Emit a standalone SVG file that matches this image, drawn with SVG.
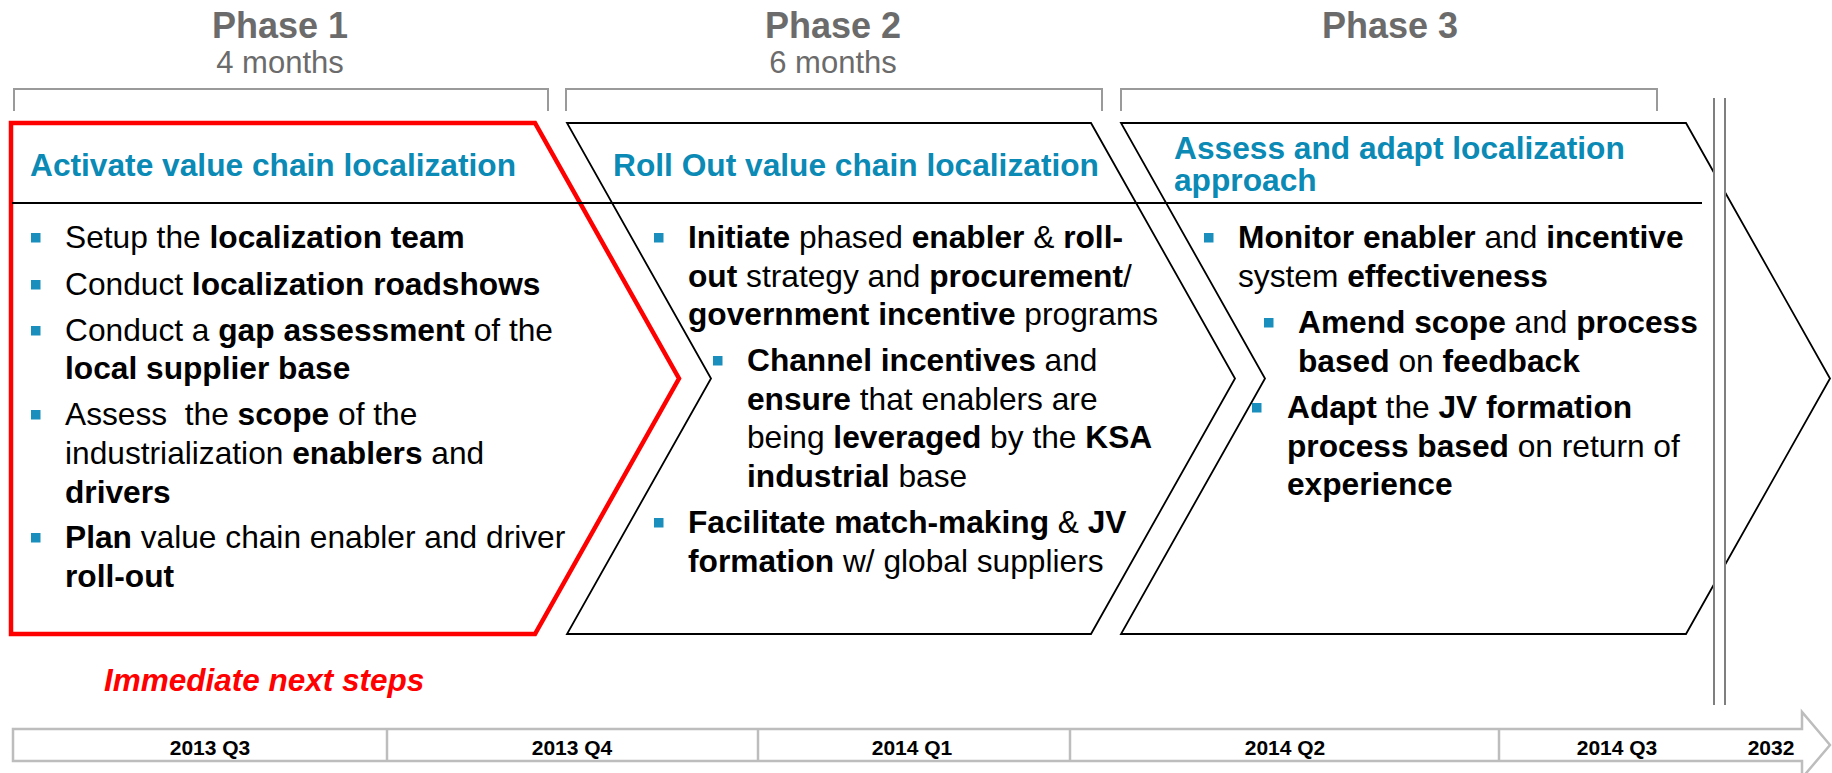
<svg xmlns="http://www.w3.org/2000/svg" width="1832" height="773" viewBox="0 0 1832 773">
<style>
text{font-family:"Liberation Sans",Arial,sans-serif}
.ph{font-size:36px;font-weight:bold;fill:#6b6b6b;text-anchor:middle}
.mo{font-size:31px;fill:#6b6b6b;text-anchor:middle}
.hd{font-size:31.7px;font-weight:bold;fill:#0a8ab5}
.tx{font-size:31.7px;fill:#000}
.b{font-weight:bold}
.br{fill:none;stroke:#9a9a9a;stroke-width:2}
.ch{fill:#fff;stroke:#000;stroke-width:1.8;stroke-linejoin:miter}
.red{fill:#fff;stroke:#ff0000;stroke-width:4.5;stroke-linejoin:miter}
.bu{fill:#1a8fbd}
.tl{font-size:21px;font-weight:bold;text-anchor:middle;fill:#000}
.dv{stroke:#bdbdbd;stroke-width:2.5}
.brk{stroke:#7f7f7f;stroke-width:2}
</style>
<rect width="1832" height="773" fill="#fff"/>

<g id="phase1-header">
<text class="ph" x="280" y="38">Phase 1</text>
<text class="mo" x="280" y="73">4 months</text>
<path class="br" d="M14,111 V89 H548 V111"/>
</g>
<g id="phase2-header">
<text class="ph" x="833" y="38">Phase 2</text>
<text class="mo" x="833" y="73">6 months</text>
<path class="br" d="M566,111 V89 H1102 V111"/>
</g>
<g id="phase3-header">
<text class="ph" x="1390" y="38">Phase 3</text>
<path class="br" d="M1121,111 V89 H1657 V111"/>
</g>

<g id="chevron3-shape">
<polygon class="ch" points="1121,123 1686,123 1830,378.5 1686,634 1121,634 1265,378.5"/>
</g>
<g id="chevron2-shape">
<polygon class="ch" points="567,123 1091,123 1235,378.5 1091,634 567,634 711,378.5"/>
</g>
<g id="chevron1-shape">
<polygon class="red" points="11,123 535,123 679,378.5 535,634 11,634"/>
</g>

<line x1="12" y1="203" x2="1702" y2="203" stroke="#000" stroke-width="2"/>

<g id="break">
<rect x="1714" y="98" width="11" height="607" fill="#fff"/>
<line class="brk" x1="1714" y1="98" x2="1714" y2="705"/>
<line class="brk" x1="1725" y1="98" x2="1725" y2="705"/>
</g>

<g id="chevron1">
<text class="hd" x="30" y="176">Activate value chain localization</text>
<rect class="bu" x="31" y="233" width="9.5" height="9.5"/>
<rect class="bu" x="31" y="280" width="9.5" height="9.5"/>
<rect class="bu" x="31" y="326" width="9.5" height="9.5"/>
<rect class="bu" x="31" y="410" width="9.5" height="9.5"/>
<rect class="bu" x="31" y="533" width="9.5" height="9.5"/>
<text class="tx" x="65" y="248">Setup the <tspan class="b">localization team</tspan></text>
<text class="tx" x="65" y="295">Conduct <tspan class="b">localization roadshows</tspan></text>
<text class="tx" x="65" y="341">Conduct a <tspan class="b">gap assessment</tspan> of the</text>
<text class="tx" x="65" y="379"><tspan class="b">local supplier base</tspan></text>
<text class="tx" x="65" y="425" xml:space="preserve">Assess  the <tspan class="b">scope</tspan> of the</text>
<text class="tx" x="65" y="464">industrialization <tspan class="b">enablers</tspan> and</text>
<text class="tx" x="65" y="503"><tspan class="b">drivers</tspan></text>
<text class="tx" x="65" y="548"><tspan class="b">Plan</tspan> value chain enabler and driver</text>
<text class="tx" x="65" y="587"><tspan class="b">roll-out</tspan></text>
</g>

<g id="chevron2">
<text class="hd" x="613" y="176">Roll Out value chain localization</text>
<rect class="bu" x="654" y="233" width="9.5" height="9.5"/>
<rect class="bu" x="713" y="356" width="9.5" height="9.5"/>
<rect class="bu" x="654" y="518" width="9.5" height="9.5"/>
<text class="tx" x="688" y="248"><tspan class="b">Initiate</tspan> phased <tspan class="b">enabler</tspan> &amp; <tspan class="b">roll-</tspan></text>
<text class="tx" x="688" y="287"><tspan class="b">out</tspan> strategy and <tspan class="b">procurement</tspan>/</text>
<text class="tx" x="688" y="325"><tspan class="b">government incentive</tspan> programs</text>
<text class="tx" x="747" y="371"><tspan class="b">Channel incentives</tspan> and</text>
<text class="tx" x="747" y="410"><tspan class="b">ensure</tspan> that enablers are</text>
<text class="tx" x="747" y="448">being <tspan class="b">leveraged</tspan> by the <tspan class="b">KSA</tspan></text>
<text class="tx" x="747" y="487"><tspan class="b">industrial</tspan> base</text>
<text class="tx" x="688" y="533"><tspan class="b">Facilitate match-making</tspan> &amp; <tspan class="b">JV</tspan></text>
<text class="tx" x="688" y="572"><tspan class="b">formation</tspan> w/ global suppliers</text>
</g>

<g id="chevron3">
<text class="hd" x="1174" y="159">Assess and adapt localization</text>
<text class="hd" x="1174" y="191">approach</text>
<rect class="bu" x="1204" y="233" width="9.5" height="9.5"/>
<rect class="bu" x="1264" y="318" width="9.5" height="9.5"/>
<rect class="bu" x="1252" y="403" width="9.5" height="9.5"/>
<text class="tx" x="1238" y="248"><tspan class="b">Monitor enabler</tspan> and <tspan class="b">incentive</tspan></text>
<text class="tx" x="1238" y="287">system <tspan class="b">effectiveness</tspan></text>
<text class="tx" x="1298" y="333"><tspan class="b">Amend scope</tspan> and <tspan class="b">process</tspan></text>
<text class="tx" x="1298" y="372"><tspan class="b">based</tspan> on <tspan class="b">feedback</tspan></text>
<text class="tx" x="1287" y="418"><tspan class="b">Adapt</tspan> the <tspan class="b">JV formation</tspan></text>
<text class="tx" x="1287" y="457"><tspan class="b">process based</tspan> on return of</text>
<text class="tx" x="1287" y="495"><tspan class="b">experience</tspan></text>
</g>

<g id="next-steps">
<text x="104" y="691" font-size="31.5" font-weight="bold" font-style="italic" fill="#ff0000">Immediate next steps</text>
</g>

<g id="timeline">
<polygon points="13,729 1802,729 1802,712 1830,745 1802,778 1802,761 13,761" fill="#fff" stroke="#bdbdbd" stroke-width="2.5"/>
<line class="dv" x1="387" y1="729" x2="387" y2="761"/>
<line class="dv" x1="758" y1="729" x2="758" y2="761"/>
<line class="dv" x1="1070" y1="729" x2="1070" y2="761"/>
<line class="dv" x1="1499" y1="729" x2="1499" y2="761"/>
<text class="tl" x="210" y="755">2013 Q3</text>
<text class="tl" x="572" y="755">2013 Q4</text>
<text class="tl" x="912" y="755">2014 Q1</text>
<text class="tl" x="1285" y="755">2014 Q2</text>
<text class="tl" x="1617" y="755">2014 Q3</text>
<text class="tl" x="1771" y="755">2032</text>
</g>

<g id="connectors"></g>
</svg>
